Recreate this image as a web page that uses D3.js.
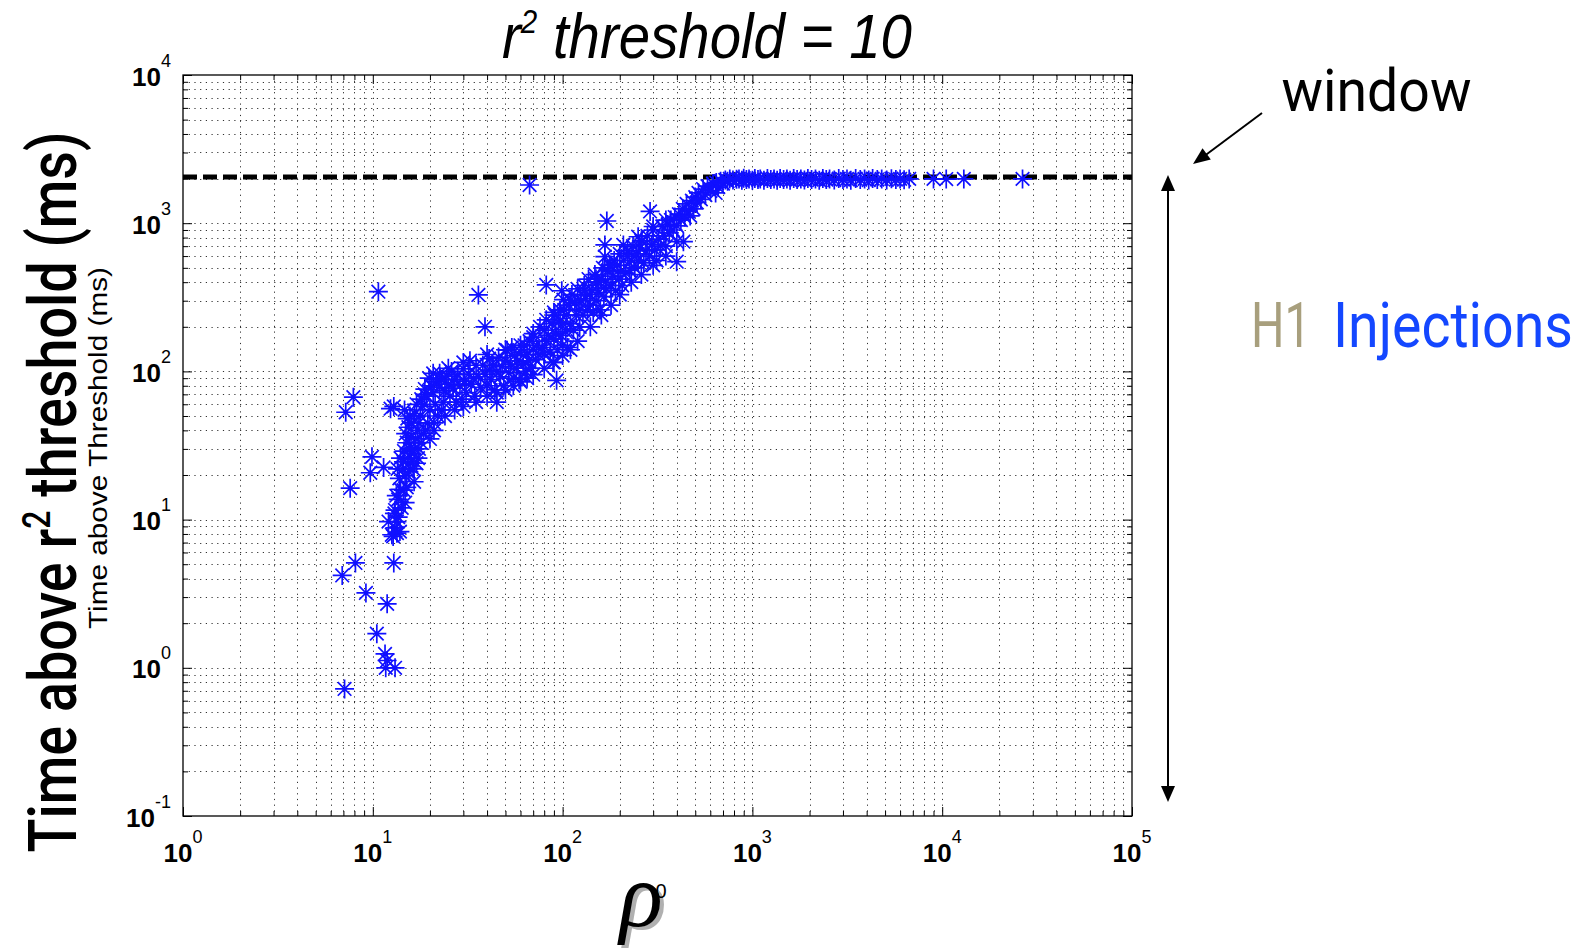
<!DOCTYPE html>
<html><head><meta charset="utf-8">
<script src="https://cdn.jsdelivr.net/npm/d3@7"></script>
<style>body{margin:0;background:#fff}svg{display:block}</style>
</head><body>
<script>
// ---------------- DATA ----------------
const xTickLabels = ["0","1","2","3","4","5"];      // 10^n on rho axis
const yTickLabels = ["-1","0","1","2","3","4"];     // 10^n on time axis
const windowMs = 2048;
const plotTitle = ["r", "2", " threshold = 10"];
const yLabelBig = ["Time above r", "2", " threshold (ms)"];
const yLabelSmall = "Time above Threshold (ms)";

const outliers = [[6.9,4.2],[7.1,0.72],[7.2,53],[7.6,16.3],[7.9,67],[8.1,5.1],[9.2,3.2],[9.7,20.7],[9.9,26.5],[10.5,1.7],[10.7,345],[11.4,22.5],[11.6,1.24],[11.9,1.12],[11.7,1.0],[11.9,2.7],[12.9,5.1],[13.1,1.0],[12.4,56],[12.9,58],[36,328],[39,200],[45,62],[67,1810],[82,383],[93,87],[167,713],[167,594],[171,1035],[209,713],[250,810],[289,1200],[399,550],[433,750]];

const stemPoints = [[12.6,7.9],[12.8,7.7],[13.4,8.1],[13.9,8.3],[13.1,8.8],[12.1,9.7],[13.4,9.7],[13.6,10.4],[13.0,11],[13.1,11.6],[14.2,12],[13.6,13.7],[14.0,16],[13.3,14.5],[13.8,19],[13.5,22],[14.0,26],[14.5,15.8],[14.8,13],[15.1,16.5],[14.8,19.7],[14.4,22],[15.5,21],[14.5,24.5],[15.3,26],[14.6,29],[15.6,30],[15.1,33],[15.9,36],[14.9,38],[15.4,42],[16.0,45],[15.7,50],[14.7,55],[15.2,48],[16.0,28],[15.8,24],[16.3,22],[16.5,30],[16.8,35],[17.2,40],[16.6,52],[17.0,60],[17.5,45],[17.8,50],[18.0,65],[18.3,58],[18.5,38],[18.8,70],[18.8,76],[17.3,26],[16.5,18],[17,24],[17.5,30],[18,33],[19,40]];

const lowBandPoints = [[19.2,68],[19.5,45],[20,55],[20.3,80],[20.8,72],[20.8,97],[21.3,60],[21.7,85],[22,50],[22.5,78],[22.5,97],[23,88],[23.5,62],[24,74],[24.5,93],[25,82],[19.8,90],[21,40],[23,55],[25.5,68],[26,100],[26.5,77],[27,88],[27.5,62],[28,95],[28.8,80],[29.5,65],[30,104],[30.5,86],[31,72],[32,96],[32.5,118],[33,82],[34,90],[34.5,68],[35,110],[36,92],[37,78],[38,110],[39,96],[40,80],[41,122],[41.4,102],[42,88],[43,110],[44,75],[45,100],[46,125],[47,92],[48,108],[49,80],[50,118],[51,139],[52,98],[53,112],[54,145],[55,90],[56,128],[57,105],[58,118],[59,88],[60,135],[20,35],[21,45],[24,50],[27,55],[30,58],[35,62],[40,68],[45,72],[50,75],[55,80],[60,85],[25,105],[30,115],[40,130],[50,140]];

const midBandPoints = [[62,112],[63,150],[64,100],[65,130],[66,118],[67,160],[68,105],[70,140],[70,180],[72,120],[73,150],[75,130],[76,200],[78,145],[80,130],[80,190],[82,223],[82,160],[84,175],[86,135],[88,210],[89,115],[90,165],[91,240],[92,180],[94,140],[95,215],[97,260],[98,175],[100,150],[100,210],[101,305],[102,260],[99,350],[104,185],[105,240],[106,145],[108,280],[110,210],[112,330],[114,190],[116,290],[118,240],[120,360],[122,260],[123,200],[125,300],[128,240],[130,380],[132,310],[135,260],[137,420],[139,330],[140,280],[143,350],[145,250],[148,450],[150,300],[65,90],[70,95],[80,105],[90,115],[100,128],[110,140],[120,160],[140,200],[60,150],[70,170],[90,250],[110,300],[130,350],[150,420]];

const highBandPoints = [[152,400],[155,340],[158,260],[160,420],[163,500],[165,320],[168,400],[170,360],[173,480],[177,520],[180,380],[184,440],[187,560],[190,350],[194,520],[198,420],[200,620],[203,470],[206,380],[210,560],[215,460],[220,650],[226,480],[230,560],[235,700],[240,500],[245,620],[250,560],[256,680],[262,760],[268,540],[275,650],[280,820],[287,600],[295,720],[300,900],[306,660],[313,560],[320,780],[328,700],[335,950],[342,820],[350,700],[358,980],[365,860],[372,1050],[382,900],[390,1100],[400,960],[410,1150],[420,1050],[430,1250],[440,1100],[450,1350],[460,1200],[470,1120],[480,1420],[490,1250],[500,1500],[510,1380],[520,1600],[535,1450],[550,1700],[565,1550],[580,1780],[600,1650],[620,1850],[640,1600],[645,1880],[660,1750],[680,1920],[700,1850],[720,1960],[740,1920],[760,1990],[790,1960],[825,1980],[160,240],[180,280],[200,330],[230,400],[260,450],[300,520],[350,600],[400,750],[180,520],[220,600],[260,760],[300,950],[350,1050]];

const plateauPoints = [[850,1990],[880,1950],[900,2010],[930,1970],[960,1990],[1000,1950],[1030,2000],[1070,1970],[1100,1990],[1150,1950],[1200,2000],[1250,1970],[1300,1990],[1350,1950],[1400,2000],[1460,1970],[1520,1990],[1580,1950],[1650,2000],[1720,1970],[1800,1990],[1880,1955],[1960,2000],[2050,1970],[2150,1990],[2250,1950],[2350,2000],[2450,1970],[2550,1990],[2700,1955],[2850,2000],[3000,1970],[3150,1990],[3300,1950],[3500,2000],[3700,1970],[3900,1990],[4100,1955],[4300,2000],[4550,1970],[4800,1990],[5100,1960],[5400,1995],[5700,1970],[6000,1990],[6300,1965],[6700,1990],[9000,1990],[10500,1985],[13000,1990],[26500,1990]];

// ---------------- LAYOUT ----------------
const W = 1581, H = 949;
const L = 183, R = 1132, T = 75, B = 816;
const svg = d3.select("body").append("svg").attr("width", W).attr("height", H);

const x = d3.scaleLog().domain([1, 1e5]).range([L, R]);
const y = d3.scaleLog().domain([0.1, 1e4]).range([B, T]);

const xMajor = xTickLabels.map(e => Math.pow(10, +e));
const yMajor = yTickLabels.map(e => Math.pow(10, +e));
const minorOf = majors => majors.slice(0, -1).flatMap(d => [2,3,4,5,6,7,8,9].map(m => m * d));
const xMinor = minorOf(xMajor), yMinor = minorOf(yMajor);

// grid
const grid = svg.append("g").attr("stroke", "#000").attr("stroke-width", 1).attr("stroke-dasharray", "1.2,4.5").attr("opacity", 0.8);
xMinor.concat(xMajor.slice(1, -1)).forEach(v => {
  grid.append("line").attr("x1", Math.round(x(v)) + 0.5).attr("x2", Math.round(x(v)) + 0.5).attr("y1", T).attr("y2", B);
});
yMinor.concat(yMajor.slice(1, -1)).forEach(v => {
  grid.append("line").attr("y1", Math.round(y(v)) + 0.5).attr("y2", Math.round(y(v)) + 0.5).attr("x1", L).attr("x2", R);
});

// axes (inward ticks on all four sides)
function addAxis(axisFn, scale, vals, size, transform) {
  const g = svg.append("g").attr("transform", transform)
    .call(axisFn(scale).tickValues(vals).tickSize(size).tickFormat(""));
  g.select(".domain").remove();
  g.selectAll("line").attr("stroke", "#000").attr("stroke-width", 1);
}
addAxis(d3.axisBottom, x, xMajor, -9, `translate(0,${B})`);
addAxis(d3.axisBottom, x, xMinor, -5, `translate(0,${B})`);
addAxis(d3.axisTop, x, xMajor, -9, `translate(0,${T})`);
addAxis(d3.axisTop, x, xMinor, -5, `translate(0,${T})`);
addAxis(d3.axisLeft, y, yMajor, -9, `translate(${L},0)`);
addAxis(d3.axisLeft, y, yMinor, -5, `translate(${L},0)`);
addAxis(d3.axisRight, y, yMajor, -9, `translate(${R},0)`);
addAxis(d3.axisRight, y, yMinor, -5, `translate(${R},0)`);
svg.append("rect").attr("x", L).attr("y", T).attr("width", R - L).attr("height", B - T)
  .attr("fill", "none").attr("stroke", "#000").attr("stroke-width", 1.3);

// tick labels
const tickFont = "'Liberation Sans', Arial, sans-serif";
xTickLabels.forEach((e, i) => {
  const t = svg.append("text").attr("x", x(xMajor[i])).attr("y", 862).attr("text-anchor", "middle")
    .attr("font-family", tickFont).attr("font-size", 26).attr("font-weight", "bold").attr("fill", "#000");
  t.append("tspan").text("10");
  t.append("tspan").attr("dy", -19).attr("font-size", 18).attr("font-weight", "normal").text(e);
});
yTickLabels.forEach((e, i) => {
  const t = svg.append("text").attr("x", 171).attr("y", y(yMajor[i]) + 10.5).attr("text-anchor", "end")
    .attr("font-family", tickFont).attr("font-size", 26).attr("font-weight", "bold").attr("fill", "#000");
  t.append("tspan").text("10");
  t.append("tspan").attr("dy", -19).attr("font-size", 18).attr("font-weight", "normal").text(e);
});

// window dashed line
svg.append("line").attr("x1", L).attr("x2", R).attr("y1", y(windowMs)).attr("y2", y(windowMs))
  .attr("stroke", "#000").attr("stroke-width", 5).attr("stroke-dasharray", "14,6");

// star markers
const r = 9.5, d = 6.8;
const star = `M${-r},0L${r},0M0,${-r}L0,${r}M${-d},${-d}L${d},${d}M${-d},${d}L${d},${-d}`;
const allPts = [].concat(outliers, stemPoints, lowBandPoints, midBandPoints, highBandPoints, plateauPoints);
svg.append("g").selectAll("path").data(allPts).join("path")
  .attr("d", star).attr("transform", p => `translate(${x(p[0])},${y(p[1])})`)
  .attr("fill", "none").attr("stroke", "#1010ff").attr("stroke-width", 1.7);

// helper: text fitted to a width (horizontal scaling), anchored middle
function fitted(parts, cx, cy, width, opts) {
  const g = svg.append("g");
  const t = g.append("text").attr("text-anchor", "middle")
    .attr("font-family", opts.family).attr("font-size", opts.size)
    .attr("font-style", opts.style || "normal").attr("font-weight", opts.weight || "normal")
    .attr("fill", opts.fill || "#000");
  parts.forEach((p, i) => {
    const ts = t.append("tspan").text(p);
    if (opts.sup && i === 1) ts.attr("dy", -opts.supRise).attr("font-size", opts.supSize);
    if (opts.sup && i === 2) ts.attr("dy", opts.supRise);
  });
  const w = t.node().getBBox().width;
  g.attr("transform", `translate(${cx},${cy}) rotate(${opts.rotate || 0}) scale(${width / w},1)`);
  return g;
}

// title
fitted(plotTitle, 707, 58, 410, {family: "'Liberation Sans Narrow','Liberation Sans',Arial,sans-serif", size: 63, style: "italic", sup: true, supRise: 25, supSize: 33});

// y labels
fitted(yLabelBig, 76, 492, 721, {family: "Roboto, 'DejaVu Sans', sans-serif", size: 66, weight: 500, rotate: -90, sup: true, supRise: 26, supSize: 38});
fitted([yLabelSmall], 107, 448, 362, {family: "'Liberation Sans', Arial, sans-serif", size: 25, rotate: -90});

// rho label
svg.append("text").attr("x", 645).attr("y", 929).attr("font-family", "'Liberation Serif', serif")
  .attr("font-style", "italic").attr("font-size", 90).attr("fill", "#b0b0b0").attr("text-anchor", "middle").text("ρ");
svg.append("text").attr("x", 641).attr("y", 926).attr("font-family", "'Liberation Serif', serif")
  .attr("font-style", "italic").attr("font-size", 90).attr("fill", "#000").attr("text-anchor", "middle").text("ρ");
svg.append("text").attr("x", 661).attr("y", 898).attr("font-family", tickFont)
  .attr("font-size", 20).attr("fill", "#000").attr("text-anchor", "middle").text("0");

// annotations
const annFont = "Roboto, 'Open Sans', sans-serif";
fitted(["window"], 1376.5, 111, 190, {family: annFont, size: 60});
fitted(["H1"], 1281, 347, 60, {family: annFont, size: 63, fill: "#a89f7d"});
fitted(["Injections"], 1453, 347, 240, {family: annFont, size: 63, fill: "#1447ff"});

function arrowHead(tip, from, len, half) {
  const dx = tip[0] - from[0], dy = tip[1] - from[1], n = Math.hypot(dx, dy);
  const ux = dx / n, uy = dy / n, bx = tip[0] - ux * len, by = tip[1] - uy * len;
  return `M${tip[0]},${tip[1]}L${bx - uy * half},${by + ux * half}L${bx + uy * half},${by - ux * half}Z`;
}
const ann = svg.append("g").attr("stroke", "#000").attr("fill", "#000");
ann.append("line").attr("x1", 1262).attr("y1", 113).attr("x2", 1203).attr("y2", 157).attr("stroke-width", 2);
ann.append("path").attr("d", arrowHead([1193, 164], [1262, 113], 17, 7)).attr("stroke", "none");
ann.append("line").attr("x1", 1168).attr("y1", 188).attr("x2", 1168).attr("y2", 790).attr("stroke-width", 2);
ann.append("path").attr("d", arrowHead([1168, 175], [1168, 400], 16, 7)).attr("stroke", "none");
ann.append("path").attr("d", arrowHead([1168, 802], [1168, 400], 16, 7)).attr("stroke", "none");
</script>
</body></html>
